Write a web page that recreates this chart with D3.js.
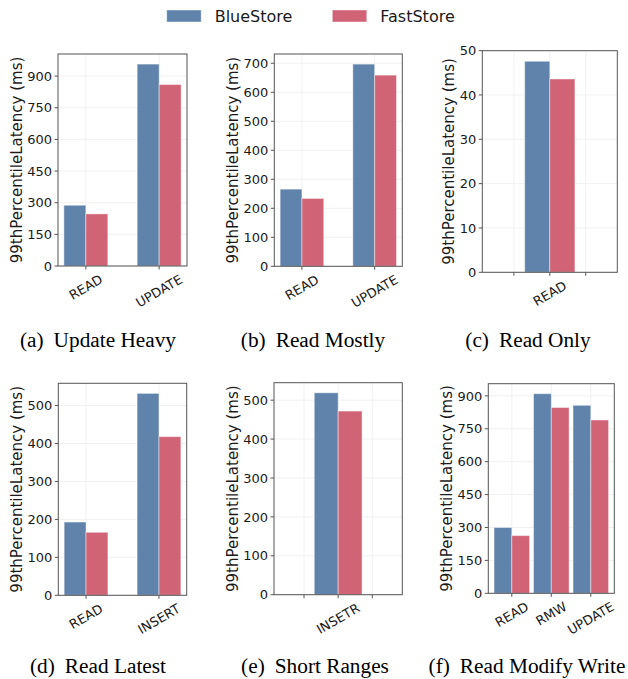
<!DOCTYPE html>
<html>
<head>
<meta charset="utf-8">
<script src="https://cdn.jsdelivr.net/npm/d3@7"></script>
<style>
  body { margin: 0; background: #fff; }
  svg text { font-family: "DejaVu Sans", sans-serif; fill: #1a1a1a; }
  svg text.caption { font-family: "Liberation Serif", "Times New Roman", serif; fill: #000; }
</style>
</head>
<body>
<svg id="chart" width="628" height="679"></svg>
<script>
    'use strict';

    // data
    var seriesNames = ['BlueStore', 'FastStore'];

    var updateHeavyCats = ['READ', 'UPDATE'],
        updateHeavyBlue = [288, 957],
        updateHeavyFast = [247, 860];

    var readMostlyCats = ['READ', 'UPDATE'],
        readMostlyBlue = [266, 697],
        readMostlyFast = [234, 659];

    var readOnlyCats = ['READ'],
        readOnlyBlue = [47.6],
        readOnlyFast = [43.6];

    var readLatestCats = ['READ', 'INSERT'],
        readLatestBlue = [193, 532],
        readLatestFast = [166, 418];

    var shortRangesCats = ['INSETR'],
        shortRangesBlue = [519],
        shortRangesFast = [472];

    var rmwCats = ['READ', 'RMW', 'UPDATE'],
        rmwBlue = [300, 910, 857],
        rmwFast = [263, 847, 790];

    var captionTags = ['(a)', '(b)', '(c)', '(d)', '(e)', '(f)'];
    var captions = ['Update Heavy', 'Read Mostly', 'Read Only',
                    'Read Latest', 'Short Ranges', 'Read Modify Write'];

    var colors = ['#5f83aa', '#d06375'];
    var yLabel = '99thPercentileLatency (ms)';

    var svg = d3.select('#chart');

    // panel layout: plot box in px, x domain, tick step, bar width
    var panels = [
        { cats: updateHeavyCats, blue: updateHeavyBlue, fast: updateHeavyFast,
          box: [58, 187, 54, 266], xdom: [-0.38, 1.38], bw: 0.3, step: 150, cap: [98, 347] },
        { cats: readMostlyCats, blue: readMostlyBlue, fast: readMostlyFast,
          box: [274.3, 402.3, 54, 266.3], xdom: [-0.38, 1.38], bw: 0.3, step: 100, cap: [313, 347] },
        { cats: readOnlyCats, blue: readOnlyBlue, fast: readOnlyFast,
          box: [482.3, 617.3, 50.7, 272.3], xdom: [-1.88, 1.88], bw: 0.7, step: 10, cap: [528, 347], extra: true },
        { cats: readLatestCats, blue: readLatestBlue, fast: readLatestFast,
          box: [58.3, 186.7, 383.3, 595.3], xdom: [-0.38, 1.38], bw: 0.3, step: 100, cap: [98, 673] },
        { cats: shortRangesCats, blue: shortRangesBlue, fast: shortRangesFast,
          box: [274, 402.3, 382.7, 594.7], xdom: [-1.88, 1.88], bw: 0.7, step: 100, cap: [315, 673], extra: true },
        { cats: rmwCats, blue: rmwBlue, fast: rmwFast,
          box: [488.3, 614.3, 383.7, 593.3], xdom: [-0.595, 2.595], bw: 0.45, step: 150, cap: [527, 673] }
    ];

    panels.forEach(function (p, i) {
        drawPanel(p, captionTags[i], captions[i]);
    });

    function drawPanel(p, tag, caption) {
        var left = p.box[0], right = p.box[1], top = p.box[2], bottom = p.box[3];
        var maxVal = d3.max(p.blue.concat(p.fast));
        var yMax = maxVal * 1.05;

        var x = d3.scaleLinear().domain(p.xdom).range([left, right]);
        var y = d3.scaleLinear().domain([0, yMax]).range([bottom, top]);

        var yTicks = d3.range(0, yMax + p.step * 0.01, p.step);
        var catPos = p.cats.map(function (c, k) { return k; });
        var xTicks = p.extra ? [-1, 0, 1] : catPos;

        var g = svg.append('g');

        // faint grid
        g.selectAll('.hgrid')
            .data(yTicks)
            .enter().append('line')
            .attr('x1', left).attr('x2', right)
            .attr('y1', function (d) { return y(d); })
            .attr('y2', function (d) { return y(d); })
            .attr('stroke', '#eeeeee').attr('stroke-width', 0.8);

        g.selectAll('.vgrid')
            .data(xTicks)
            .enter().append('line')
            .attr('y1', top).attr('y2', bottom)
            .attr('x1', function (d) { return x(d); })
            .attr('x2', function (d) { return x(d); })
            .attr('stroke', '#eeeeee').attr('stroke-width', 0.8);

        // bars
        [p.blue, p.fast].forEach(function (vals, s) {
            g.selectAll('.bar' + s)
                .data(vals)
                .enter().append('rect')
                .attr('x', function (d, k) { return s === 0 ? x(k - p.bw) : x(k); })
                .attr('width', x(p.bw) - x(0))
                .attr('y', function (d) { return y(d); })
                .attr('height', function (d) { return y(0) - y(d); })
                .attr('fill', colors[s])
                .attr('stroke', 'rgba(255,255,255,0.45)')
                .attr('stroke-width', 1);
        });

        // frame
        g.append('rect')
            .attr('x', left).attr('y', top)
            .attr('width', right - left).attr('height', bottom - top)
            .attr('fill', 'none').attr('stroke', '#555').attr('stroke-width', 1);

        // y ticks
        var yt = g.selectAll('.ytick')
            .data(yTicks)
            .enter().append('g')
            .attr('transform', function (d) { return 'translate(0,' + y(d) + ')'; });
        yt.append('line')
            .attr('x1', left - 3.5).attr('x2', left)
            .attr('stroke', '#555');
        yt.append('text')
            .attr('x', left - 6)
            .attr('dy', '0.36em')
            .attr('text-anchor', 'end')
            .attr('font-size', 13)
            .text(function (d) { return d; });

        var tickW = 0;
        yt.selectAll('text').each(function () {
            tickW = Math.max(tickW, this.getComputedTextLength());
        });

        // x ticks
        g.selectAll('.xtick')
            .data(xTicks)
            .enter().append('line')
            .attr('x1', function (d) { return x(d); })
            .attr('x2', function (d) { return x(d); })
            .attr('y1', bottom).attr('y2', bottom + 3.5)
            .attr('stroke', '#555');

        p.cats.forEach(function (c, k) {
            var t = g.append('text')
                .attr('font-size', 13)
                .attr('text-anchor', 'middle')
                .attr('dominant-baseline', 'central')
                .text(c);
            var w = t.node().getComputedTextLength();
            var h = 12;
            var bh = w * 0.5 + h * 0.866;
            var cx = x(k), cy = bottom + 7 + bh / 2;
            t.attr('transform', 'translate(' + cx + ',' + cy + ') rotate(-30)');
        });

        // y label
        g.append('text')
            .attr('font-size', 15)
            .attr('text-anchor', 'middle')
            .attr('transform', 'translate(' + (left - 6 - tickW - 5.5) + ',' + ((top + bottom) / 2) + ') rotate(-90)')
            .text(yLabel);

        // caption, with the wider gap after the tag
        var cap = g.append('text')
            .attr('class', 'caption')
            .attr('x', p.cap[0]).attr('y', p.cap[1])
            .attr('text-anchor', 'middle')
            .attr('font-size', 21.3);
        cap.append('tspan').text(tag);
        cap.append('tspan').attr('dx', 10).text(caption);
    }

    // legend
    var legendX = [166.7, 332.3];
    var legend = svg.selectAll('.legend')
        .data(seriesNames)
        .enter().append('g')
        .attr('transform', function (d, i) { return 'translate(' + legendX[i] + ',10)'; });
    legend.append('rect')
        .attr('width', 34.5).attr('height', 12)
        .attr('fill', function (d, i) { return colors[i]; })
        .attr('stroke', 'rgba(255,255,255,0.45)');
    legend.append('text')
        .attr('x', 48).attr('y', 12)
        .attr('font-size', 16)
        .text(function (d) { return d; });
</script>
</body>
</html>
